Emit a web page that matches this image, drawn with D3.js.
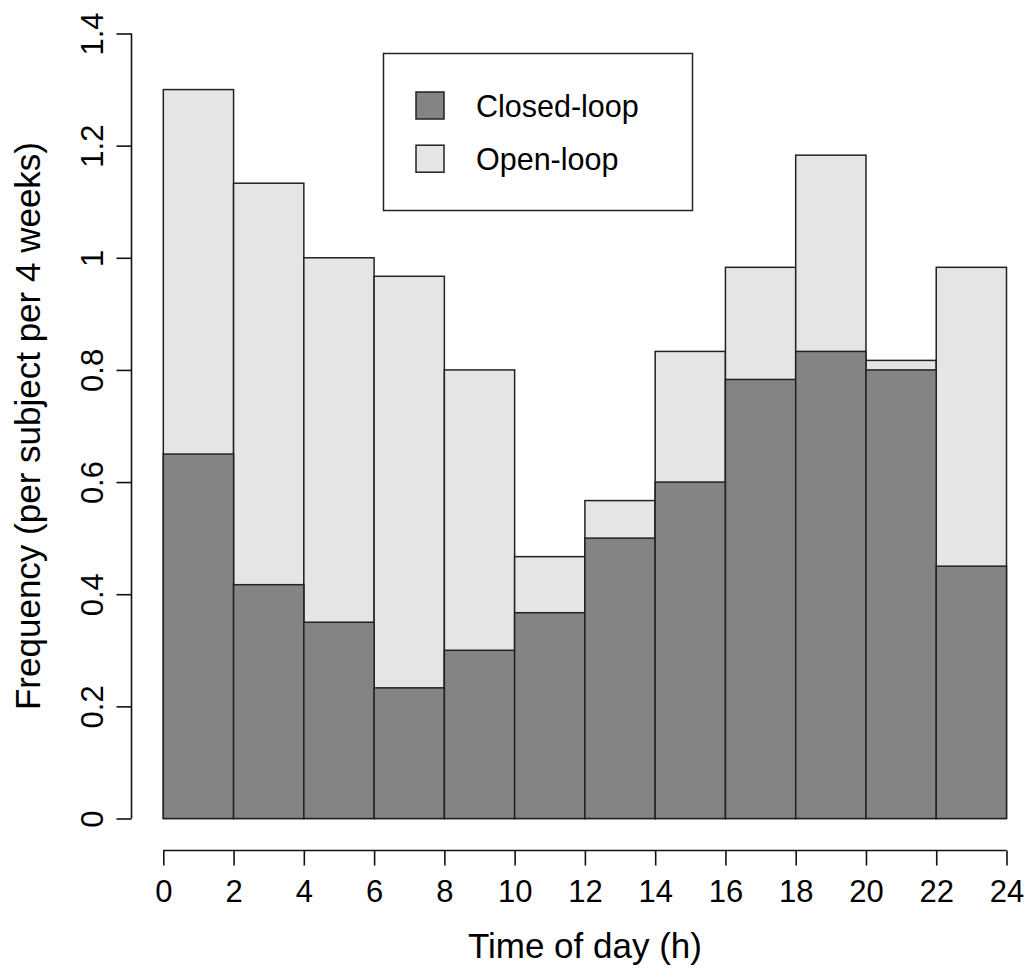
<!DOCTYPE html>
<html>
<head>
<meta charset="utf-8">
<script src="https://cdn.jsdelivr.net/npm/d3@7"></script>
<style>
  html, body { margin: 0; padding: 0; background: #fff; }
  svg { display: block; }
  text { font-family: "Liberation Sans", Arial, Helvetica, sans-serif; fill: #000; }
</style>
</head>
<body>
<svg id="chart" width="1032" height="969"></svg>
<script>
// Data: 2-hour bins over the day
const binStarts = [0, 2, 4, 6, 8, 10, 12, 14, 16, 18, 20, 22];
const binWidth = 2;
const openLoop = [1.3, 1.133, 1.0, 0.967, 0.8, 0.467, 0.567, 0.833, 0.983, 1.183, 0.817, 0.983];
const closedLoop = [0.65, 0.417, 0.35, 0.233, 0.3, 0.367, 0.5, 0.6, 0.783, 0.833, 0.8, 0.45];
const xTicks = [0, 2, 4, 6, 8, 10, 12, 14, 16, 18, 20, 22, 24];
const yTicks = [0, 0.2, 0.4, 0.6, 0.8, 1.0, 1.2, 1.4];
const yTickLabels = ["0", "0.2", "0.4", "0.6", "0.8", "1", "1.2", "1.4"];
const seriesNames = ["Closed-loop", "Open-loop"];
const colors = { closed: "#858386", open: "#e5e5e5" };

const svg = d3.select("#chart");
const x = d3.scaleLinear().domain([0, 24]).range([163.3, 1006.5]);
const y = d3.scaleLinear().domain([0, 1.4]).range([818.5, 33.5]);

// Bars: open-loop (full) then closed-loop overlay
const gBars = svg.append("g");
gBars.selectAll("rect.open").data(binStarts).join("rect")
  .attr("class", "open")
  .attr("x", (d) => x(d))
  .attr("width", (d) => x(d + binWidth) - x(d))
  .attr("y", (d, i) => y(openLoop[i]))
  .attr("height", (d, i) => y(0) - y(openLoop[i]))
  .attr("fill", colors.open)
  .attr("stroke", "#222")
  .attr("stroke-width", 1.5);
gBars.selectAll("rect.closed").data(binStarts).join("rect")
  .attr("class", "closed")
  .attr("x", (d) => x(d))
  .attr("width", (d) => x(d + binWidth) - x(d))
  .attr("y", (d, i) => y(closedLoop[i]))
  .attr("height", (d, i) => y(0) - y(closedLoop[i]))
  .attr("fill", colors.closed)
  .attr("stroke", "#222")
  .attr("stroke-width", 1.5);

// X axis
const xAxis = d3.axisBottom(x).tickValues(xTicks).tickSize(15).tickPadding(6).tickFormat(d3.format("d"));
const gx = svg.append("g").attr("transform", "translate(0,850.5)").call(xAxis);
gx.select(".domain").attr("stroke", "#111").attr("stroke-width", 1.6).attr("d", `M${x(0)},0H${x(24)}`);
gx.selectAll(".tick line").attr("stroke", "#111").attr("stroke-width", 1.6);
gx.selectAll(".tick text").attr("font-size", 31).attr("y", 0).attr("dy", null)
  .attr("transform", "translate(0,51.5)").attr("font-family", '"Liberation Sans", Arial, sans-serif').attr("fill", "#000");

// Y axis
const yAxis = d3.axisLeft(y).tickValues(yTicks).tickSize(15).tickFormat((d, i) => yTickLabels[i]);
const gy = svg.append("g").attr("transform", "translate(131.5,0)").call(yAxis);
gy.select(".domain").attr("stroke", "#111").attr("stroke-width", 1.6).attr("d", `M0,${y(1.4)}V${y(0)}`);
gy.selectAll(".tick line").attr("stroke", "#111").attr("stroke-width", 1.6);
gy.selectAll(".tick text").attr("font-size", 31).attr("x", 0).attr("dy", null)
  .attr("text-anchor", "middle")
  .attr("transform", "translate(-29,0) rotate(-90)")
  .attr("font-family", '"Liberation Sans", Arial, sans-serif').attr("fill", "#000");

// Axis titles
svg.append("text").attr("x", (x(0) + x(24)) / 2).attr("y", 958)
  .attr("text-anchor", "middle").attr("font-size", 35).text("Time of day (h)");
svg.append("text").attr("transform", `translate(40,${(y(0) + y(1.4)) / 2}) rotate(-90)`)
  .attr("text-anchor", "middle").attr("font-size", 35).text("Frequency (per subject per 4 weeks)");

// Legend
const lg = svg.append("g");
lg.append("rect").attr("x", 383.5).attr("y", 53.5).attr("width", 309).attr("height", 157)
  .attr("fill", "#fff").attr("stroke", "#222").attr("stroke-width", 1.5);
const legendItems = [
  { name: seriesNames[0], color: colors.closed },
  { name: seriesNames[1], color: colors.open }
];
const rowY = [105.5, 158.7];
legendItems.forEach((it, i) => {
  lg.append("rect").attr("x", 416).attr("y", rowY[i] - 13.5).attr("width", 28).attr("height", 27)
    .attr("fill", it.color).attr("stroke", "#222").attr("stroke-width", 1.5);
  lg.append("text").attr("x", 476).attr("y", rowY[i] + 11).attr("font-size", 30.5).text(it.name);
});
</script>
</body>
</html>
